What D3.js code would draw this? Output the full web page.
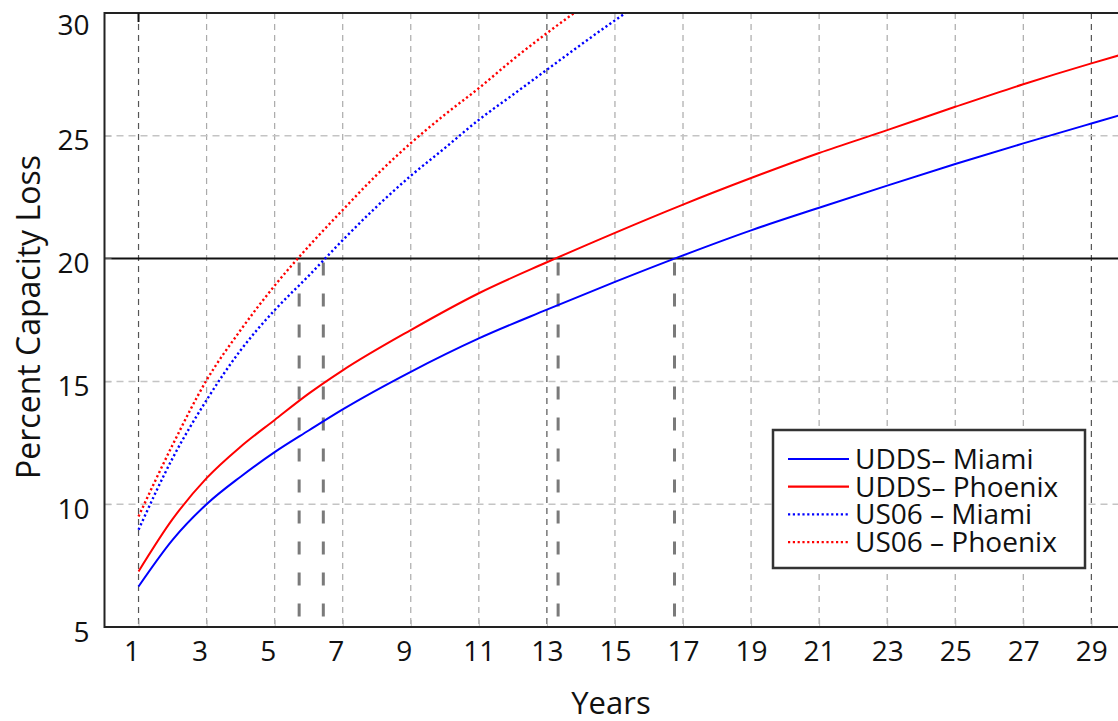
<!DOCTYPE html>
<html>
<head>
<meta charset="utf-8">
<script src="https://cdn.jsdelivr.net/npm/d3@7"></script>
<style>
    body { margin: 0; background: #fff; }
    svg { display: block; font-family: "Open Sans", sans-serif; }
</style>
</head>
<body>
<svg id="chart" width="1118" height="721"></svg>
<script>
"use strict";

//Values
var uddsYears = [1, 2, 3, 4, 5, 6, 7, 9, 11, 13, 15, 17, 19, 21, 23, 25, 27, 29, 30];
var uddsMiami = [6.65, 8.55, 10.0, 11.12, 12.12, 13.0, 13.86, 15.39, 16.75, 17.92, 19.05, 20.13, 21.15, 22.07, 22.97, 23.85, 24.69, 25.5, 25.9];
var uddsPhoenix = [7.26, 9.39, 11.06, 12.34, 13.43, 14.5, 15.45, 17.09, 18.59, 19.85, 21.05, 22.2, 23.28, 24.3, 25.23, 26.18, 27.1, 27.95, 28.35];

var us06Years = [1, 2, 3, 4, 5, 6, 7, 8, 9, 10, 11, 12, 13, 14, 15, 16];
var us06Miami = [8.96, 11.87, 14.24, 16.27, 17.9, 19.3, 20.75, 22.12, 23.37, 24.5, 25.65, 26.67, 27.69, 28.71, 29.7, 30.65];
var us06Phoenix = [9.5, 12.41, 15.05, 17.09, 18.9, 20.5, 21.98, 23.41, 24.7, 25.86, 26.94, 28.1, 29.18, 30.2, 31.2, 32.2];

//Years at which each curve reaches 20% loss
var crossYears = [5.72, 6.43, 13.33, 16.75];
var threshold = 20;

var xTicks = [1, 3, 5, 7, 9, 11, 13, 15, 17, 19, 21, 23, 25, 27, 29];
var yTicks = [5, 10, 15, 20, 25, 30];
var yGrid = [10, 15, 25];
var darkGridYears = [1, 13, 29];

var seriesNames = ["UDDS\u2013 Miami", "UDDS\u2013 Phoenix", "US06 \u2013 Miami", "US06 \u2013 Phoenix"];
var seriesColours = ["#0000ff", "#ff0000", "#0000ff", "#ff0000"];
var seriesDotted = [false, false, true, true];

var series = [
    { years: uddsYears, values: uddsMiami },
    { years: uddsYears, values: uddsPhoenix },
    { years: us06Years, values: us06Miami },
    { years: us06Years, values: us06Phoenix }
];

var svg = d3.select("#chart");

var x = d3.scaleLinear().domain([0, 30]).range([104.5, 1125.4]);
var y = d3.scaleLinear().domain([5, 30]).range([627, 13]);

//Clip for the curves
svg.append("defs").append("clipPath").attr("id", "plotClip")
    .append("rect")
    .attr("x", x(0)).attr("y", y(30))
    .attr("width", x(30) - x(0)).attr("height", y(5) - y(30));

//Grid lines
svg.append("g").selectAll("line.vgrid")
    .data(xTicks)
    .enter().append("line")
    .attr("class", "vgrid")
    .attr("x1", function (d) { return x(d); })
    .attr("x2", function (d) { return x(d); })
    .attr("y1", y(30))
    .attr("y2", y(5))
    .attr("stroke", function (d) { return darkGridYears.indexOf(d) >= 0 ? "#555" : "#aaa"; })
    .attr("stroke-width", 1.2)
    .attr("stroke-dasharray", "6,5");

svg.append("g").selectAll("line.hgrid")
    .data(yGrid)
    .enter().append("line")
    .attr("class", "hgrid")
    .attr("x1", x(0))
    .attr("x2", x(30))
    .attr("y1", function (d) { return y(d); })
    .attr("y2", function (d) { return y(d); })
    .attr("stroke", "#c4c4c4")
    .attr("stroke-width", 1.5)
    .attr("stroke-dasharray", "7,5");

//Drop lines from the 20% crossings
svg.append("g").selectAll("line.drop")
    .data(crossYears)
    .enter().append("line")
    .attr("class", "drop")
    .attr("x1", function (d) { return x(d); })
    .attr("x2", function (d) { return x(d); })
    .attr("y1", y(threshold) + 4)
    .attr("y2", y(5) - 6)
    .attr("stroke", "#7a7a7a")
    .attr("stroke-width", 3)
    .attr("stroke-dasharray", "13,18");

//Threshold line
svg.append("line")
    .attr("x1", x(0)).attr("x2", x(30))
    .attr("y1", y(threshold)).attr("y2", y(threshold))
    .attr("stroke", "#111")
    .attr("stroke-width", 2);

//Curves
var line = d3.line()
    .x(function (d) { return x(d[0]); })
    .y(function (d) { return y(d[1]); })
    .curve(d3.curveMonotoneX);

svg.append("g").attr("clip-path", "url(#plotClip)")
    .selectAll("path")
    .data(series)
    .enter().append("path")
    .attr("fill", "none")
    .attr("stroke", function (d, i) { return seriesColours[i]; })
    .attr("stroke-width", function (d, i) { return seriesDotted[i] ? 2.4 : 2; })
    .attr("stroke-dasharray", function (d, i) { return seriesDotted[i] ? "2.2,2.6" : null; })
    .attr("d", function (d) {
        return line(d.years.map(function (yr, i) { return [yr, d.values[i]]; }));
    });

//Axes
var xAxis = d3.axisBottom(x)
    .tickValues(xTicks)
    .tickSizeInner(-7)
    .tickSizeOuter(0)
    .tickPadding(14);

var gx = svg.append("g")
    .attr("transform", "translate(0," + y(5) + ")")
    .call(xAxis);
gx.select(".domain").remove();
gx.selectAll(".tick line").attr("stroke", "#bbb");
gx.selectAll(".tick text")
    .attr("font-size", 28)
    .attr("font-family", "Open Sans")
    .attr("fill", "#111")
    .attr("dx", function (d) { return d < 10 ? -7 : 0; });

var yAxis = d3.axisLeft(y)
    .tickValues(yTicks)
    .tickSizeInner(-7)
    .tickSizeOuter(0)
    .tickPadding(15);

var gy = svg.append("g")
    .attr("transform", "translate(" + x(0) + ",0)")
    .call(yAxis);
gy.select(".domain").remove();
gy.selectAll(".tick line").attr("stroke", "#bbb");
gy.selectAll(".tick text")
    .attr("font-size", 28)
    .attr("font-family", "Open Sans")
    .attr("fill", "#111")
    .attr("dy", function (d) { return d === 30 ? "0.75em" : "0.5em"; });

//Box edges: left, bottom, top (right edge falls outside the picture)
svg.append("path")
    .attr("d", "M" + x(30) + "," + y(30) + "H" + x(0) + "V" + y(5) + "H" + x(30))
    .attr("fill", "none")
    .attr("stroke", "#222")
    .attr("stroke-width", 2);

//Dark tick at top of year 1
svg.append("line")
    .attr("x1", x(1)).attr("x2", x(1))
    .attr("y1", y(30)).attr("y2", y(30) + 9)
    .attr("stroke", "#111").attr("stroke-width", 2);

//Axis titles
svg.append("text")
    .attr("x", 611)
    .attr("y", 714)
    .attr("text-anchor", "middle")
    .attr("font-size", 31)
    .attr("fill", "#111")
    .text("Years");

svg.append("text")
    .attr("transform", "translate(40,317) rotate(-90)")
    .attr("text-anchor", "middle")
    .attr("font-size", 32)
    .attr("fill", "#111")
    .text("Percent Capacity Loss");

//Legend
var legend = svg.append("g").attr("transform", "translate(773,430)");
legend.append("rect")
    .attr("width", 312).attr("height", 138)
    .attr("fill", "#fff")
    .attr("stroke", "#333")
    .attr("stroke-width", 2.5);

var items = legend.selectAll("g.item")
    .data(seriesNames)
    .enter().append("g")
    .attr("class", "item")
    .attr("transform", function (d, i) { return "translate(0," + (29 + i * 27.7) + ")"; });

items.append("line")
    .attr("x1", 15).attr("x2", 76)
    .attr("stroke", function (d, i) { return seriesColours[i]; })
    .attr("stroke-width", function (d, i) { return seriesDotted[i] ? 2.4 : 2.2; })
    .attr("stroke-dasharray", function (d, i) { return seriesDotted[i] ? "2.2,2.6" : null; });

items.append("text")
    .attr("x", 82)
    .attr("y", 10)
    .attr("font-size", 28)
    .attr("fill", "#111")
    .text(function (d) { return d; });
</script>
</body>
</html>
